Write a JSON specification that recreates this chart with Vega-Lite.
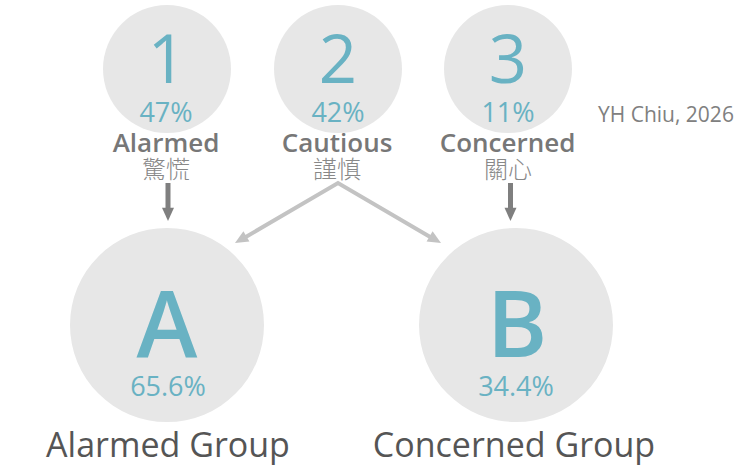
{
  "$schema": "https://vega.github.io/schema/vega-lite/v6.json",
  "width": 742,
  "height": 467,
  "padding": 0,
  "autosize": {"type": "fit", "contains": "padding"},
  "background": "white",
  "config": {"view": {"stroke": null}},
  "datasets": {
    "circles": [
      {"id": "1", "cx": 167, "cy": 69, "group": "top"},
      {"id": "2", "cx": 338, "cy": 69, "group": "top"},
      {"id": "3", "cx": 508, "cy": 69, "group": "top"},
      {"id": "A", "cx": 167, "cy": 325, "group": "bottom"},
      {"id": "B", "cx": 516, "cy": 325, "group": "bottom"}
    ],
    "darkrules": [
      {"x": 168, "y": 183, "y2": 210},
      {"x": 510.5, "y": 183, "y2": 210}
    ],
    "lightline": [
      {"x": 241.5, "y": 239.5, "o": 1},
      {"x": 338, "y": 183, "o": 2},
      {"x": 434.5, "y": 239.5, "o": 3}
    ],
    "heads": [
      {"x": 168, "y": 221, "angle": 0, "style": "dark"},
      {"x": 510.5, "y": 221, "angle": 0, "style": "dark"},
      {"x": 235, "y": 243, "angle": 59.8, "style": "light"},
      {"x": 441, "y": 243, "angle": 300.2, "style": "light"}
    ],
    "texts": [
      {"kind": "digit", "x": 167, "y": 83, "t": "1"},
      {"kind": "digit", "x": 338, "y": 83, "t": "2"},
      {"kind": "digit", "x": 508, "y": 83, "t": "3"},
      {"kind": "pct", "x": 166, "y": 121.5, "t": "47%"},
      {"kind": "pct", "x": 338, "y": 121.5, "t": "42%"},
      {"kind": "pct", "x": 508, "y": 121.5, "t": "11%"},
      {"kind": "en", "x": 166, "y": 151.5, "t": "Alarmed"},
      {"kind": "en", "x": 337, "y": 151.5, "t": "Cautious"},
      {"kind": "en", "x": 507.5, "y": 151.5, "t": "Concerned"},
      {"kind": "zh", "x": 166, "y": 178, "t": "驚慌"},
      {"kind": "zh", "x": 337, "y": 178, "t": "謹慎"},
      {"kind": "zh", "x": 508, "y": 178, "t": "關心"},
      {"kind": "letter", "x": 167, "y": 357, "t": "A"},
      {"kind": "letter", "x": 517, "y": 357, "t": "B"},
      {"kind": "bigpct", "x": 168, "y": 396, "t": "65.6%"},
      {"kind": "bigpct", "x": 516, "y": 396, "t": "34.4%"},
      {"kind": "group", "x": 168, "y": 457, "t": "Alarmed Group"},
      {"kind": "group", "x": 514, "y": 457, "t": "Concerned Group"},
      {"kind": "credit", "x": 598, "y": 122, "t": "YH Chiu, 2026"}
    ]
  },
  "layer": [
    {
      "data": {"name": "circles"},
      "transform": [{"filter": "datum.group == 'top'"}],
      "mark": {"type": "point", "shape": "circle", "filled": true, "size": 16384, "color": "#e7e7e7", "opacity": 1},
      "encoding": {
        "x": {"field": "cx", "type": "quantitative", "scale": {"domain": [0, 742], "nice": false, "zero": false}, "axis": null},
        "y": {"field": "cy", "type": "quantitative", "scale": {"domain": [0, 467], "nice": false, "zero": false, "reverse": true}, "axis": null}
      }
    },
    {
      "data": {"name": "circles"},
      "transform": [{"filter": "datum.group == 'bottom'"}],
      "mark": {"type": "point", "shape": "circle", "filled": true, "size": 37636, "color": "#e7e7e7", "opacity": 1},
      "encoding": {
        "x": {"field": "cx", "type": "quantitative"},
        "y": {"field": "cy", "type": "quantitative"}
      }
    },
    {
      "data": {"name": "darkrules"},
      "mark": {"type": "rule", "color": "#7f7f7f", "strokeWidth": 5},
      "encoding": {
        "x": {"field": "x", "type": "quantitative"},
        "y": {"field": "y", "type": "quantitative"},
        "y2": {"field": "y2"}
      }
    },
    {
      "data": {"name": "lightline"},
      "mark": {"type": "line", "color": "#c3c3c3", "strokeWidth": 4, "strokeJoin": "miter"},
      "encoding": {
        "x": {"field": "x", "type": "quantitative"},
        "y": {"field": "y", "type": "quantitative"},
        "order": {"field": "o", "type": "quantitative"}
      }
    },
    {
      "data": {"name": "heads"},
      "transform": [{"filter": "datum.style == 'dark'"}],
      "mark": {"type": "point", "shape": "M-1,-2.2L1,-2.2L0,0Z", "filled": true, "size": 144, "color": "#7f7f7f", "opacity": 1},
      "encoding": {
        "x": {"field": "x", "type": "quantitative"},
        "y": {"field": "y", "type": "quantitative"},
        "angle": {"field": "angle", "type": "quantitative", "scale": null}
      }
    },
    {
      "data": {"name": "heads"},
      "transform": [{"filter": "datum.style == 'light'"}],
      "mark": {"type": "point", "shape": "M-1,-2.2L1,-2.2L0,0Z", "filled": true, "size": 144, "color": "#c3c3c3", "opacity": 1},
      "encoding": {
        "x": {"field": "x", "type": "quantitative"},
        "y": {"field": "y", "type": "quantitative"},
        "angle": {"field": "angle", "type": "quantitative", "scale": null}
      }
    },
    {
      "data": {"name": "texts"},
      "transform": [{"filter": "datum.kind == 'digit'"}],
      "mark": {"type": "text", "font": "Open Sans", "fontSize": 67, "fontWeight": 400, "color": "#69b2c3", "align": "center", "baseline": "alphabetic"},
      "encoding": {"x": {"field": "x", "type": "quantitative"}, "y": {"field": "y", "type": "quantitative"}, "text": {"field": "t"}}
    },
    {
      "data": {"name": "texts"},
      "transform": [{"filter": "datum.kind == 'pct' || datum.kind == 'bigpct'"}],
      "mark": {"type": "text", "font": "Open Sans", "fontSize": 27, "fontWeight": 400, "color": "#69b2c3", "align": "center", "baseline": "alphabetic"},
      "encoding": {"x": {"field": "x", "type": "quantitative"}, "y": {"field": "y", "type": "quantitative"}, "text": {"field": "t"}}
    },
    {
      "data": {"name": "texts"},
      "transform": [{"filter": "datum.kind == 'en'"}],
      "mark": {"type": "text", "font": "Open Sans", "fontSize": 26, "fontWeight": 600, "color": "#777777", "align": "center", "baseline": "alphabetic"},
      "encoding": {"x": {"field": "x", "type": "quantitative"}, "y": {"field": "y", "type": "quantitative"}, "text": {"field": "t"}}
    },
    {
      "data": {"name": "texts"},
      "transform": [{"filter": "datum.kind == 'zh'"}],
      "mark": {"type": "text", "font": "Noto Sans CJK TC", "fontSize": 24, "fontWeight": 300, "color": "#888888", "align": "center", "baseline": "alphabetic"},
      "encoding": {"x": {"field": "x", "type": "quantitative"}, "y": {"field": "y", "type": "quantitative"}, "text": {"field": "t"}}
    },
    {
      "data": {"name": "texts"},
      "transform": [{"filter": "datum.kind == 'letter'"}],
      "mark": {"type": "text", "font": "Open Sans", "fontSize": 92, "fontWeight": 600, "color": "#69b2c3", "align": "center", "baseline": "alphabetic"},
      "encoding": {"x": {"field": "x", "type": "quantitative"}, "y": {"field": "y", "type": "quantitative"}, "text": {"field": "t"}}
    },
    {
      "data": {"name": "texts"},
      "transform": [{"filter": "datum.kind == 'group'"}],
      "mark": {"type": "text", "font": "Open Sans", "fontSize": 34, "fontWeight": 400, "color": "#555555", "align": "center", "baseline": "alphabetic"},
      "encoding": {"x": {"field": "x", "type": "quantitative"}, "y": {"field": "y", "type": "quantitative"}, "text": {"field": "t"}}
    },
    {
      "data": {"name": "texts"},
      "transform": [{"filter": "datum.kind == 'credit'"}],
      "mark": {"type": "text", "font": "Open Sans", "fontSize": 21, "fontWeight": 400, "color": "#808080", "align": "left", "baseline": "alphabetic"},
      "encoding": {"x": {"field": "x", "type": "quantitative"}, "y": {"field": "y", "type": "quantitative"}, "text": {"field": "t"}}
    }
  ]
}
